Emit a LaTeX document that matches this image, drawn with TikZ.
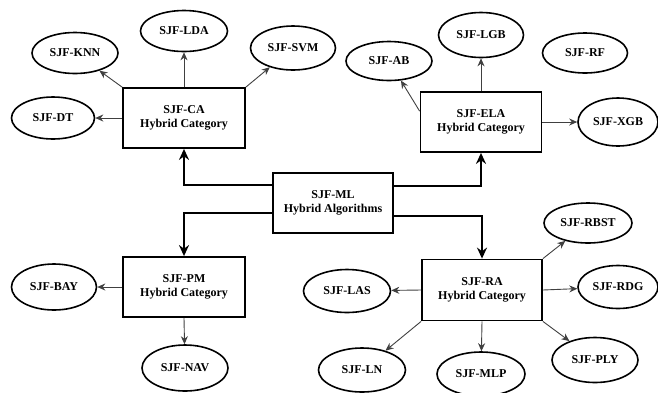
\documentclass[tikz,border=0pt]{standalone}
\usepackage{fontspec}
\setmainfont{Liberation Serif}
\usetikzlibrary{shapes.geometric,arrows.meta}
\tikzset{
  box/.style={draw,line width=1.8pt,minimum width=122pt,minimum height=60pt,inner sep=0pt,align=center,font=\fontsize{12}{14}\selectfont\bfseries},
  oval/.style={draw,ellipse,line width=1.6pt,minimum width=86pt,minimum height=43pt,inner sep=0pt,font=\fontsize{12}{14}\selectfont\bfseries},
  thinarrow/.style={draw=black!75,line width=0.9pt,-{Stealth[length=8pt,width=7pt]}},
  thickarrow/.style={draw,line width=2.2pt,-{Stealth[length=11pt,width=10pt]}}
}
\begin{document}
\begin{tikzpicture}[x=1pt,y=-1pt]
\useasboundingbox (0,0) rectangle (658,392);
% central and category boxes
\node[box,minimum width=120pt] (ml) at (333,203) {SJF-ML\\Hybrid Algorithms};
\node[box] (ca) at (184,118) {SJF-CA\\Hybrid Category};
\node[box,minimum width=121pt] (ela) at (481,122) {SJF-ELA\\Hybrid Category};
\node[box] (pm) at (184,287) {SJF-PM\\Hybrid Category};
\node[box,minimum width=120pt,minimum height=61pt] (ra) at (482,290) {SJF-RA\\Hybrid Category};
% CA leaves
\node[oval,minimum width=83pt,minimum height=42pt] (dt) at (53,118) {SJF-DT};
\node[oval,minimum height=41pt] (knn) at (75,53) {SJF-KNN};
\node[oval,minimum width=87pt,minimum height=41pt] (lda) at (184,31) {SJF-LDA};
\node[oval,minimum width=85pt,minimum height=44pt] (svm) at (293,48) {SJF-SVM};
% ELA leaves
\node[oval,minimum height=39pt] (ab) at (389,61) {SJF-AB};
\node[oval,minimum width=85pt,minimum height=45pt] (lgb) at (481,35) {SJF-LGB};
\node[oval,minimum width=85pt,minimum height=40pt] (rf) at (585,53) {SJF-RF};
\node[oval,minimum width=80pt,minimum height=48pt] (xgb) at (618,122) {SJF-XGB};
% PM leaves
\node[oval,minimum width=85pt,minimum height=46pt] (bay) at (54,287) {SJF-BAY};
\node[oval,minimum height=46pt] (nav) at (185,368) {SJF-NAV};
% RA leaves
\node[oval,minimum width=88pt,minimum height=40pt] (rbst) at (588,223) {SJF-RBST};
\node[oval,minimum width=80pt,minimum height=43pt] (rdg) at (618,287) {SJF-RDG};
\node[oval,minimum height=45pt] (ply) at (595,360) {SJF-PLY};
\node[oval,minimum width=88pt,minimum height=44pt] (mlp) at (481,374) {SJF-MLP};
\node[oval,minimum width=87pt,minimum height=44pt] (ln) at (362,370) {SJF-LN};
\node[oval,minimum width=87pt,minimum height=43pt] (las) at (347,291) {SJF-LAS};
% thick connectors
\draw[thickarrow] ([yshift=18pt]ml.west) -| (ca.south);
\draw[thickarrow] ([yshift=-10pt]ml.west) -| (pm.north);
\draw[thickarrow] ([yshift=17pt]ml.east) -| (ela.south);
\draw[thickarrow] ([yshift=-13pt]ml.east) -| (ra.north);
% CA arrows
\draw[thinarrow] (ca.west) -- (dt);
\draw[thinarrow] (ca.north west) -- (knn);
\draw[thinarrow] (ca.north) -- (lda);
\draw[thinarrow] (ca.north east) -- (svm);
% ELA arrows
\draw[thinarrow] ([yshift=-20pt]ela.north west) -- (ab);
\draw[thinarrow] (ela.north) -- (lgb);
\draw[thinarrow] (ela.east) -- (xgb);
% PM arrows
\draw[thinarrow] (pm.west) -- (bay);
\draw[thinarrow] (pm.south) -- (nav);
% RA arrows
\draw[thinarrow] (ra.north east) -- (rbst);
\draw[thinarrow] (ra.east) -- (rdg);
\draw[thinarrow] (ra.south east) -- (ply);
\draw[thinarrow] (ra.south) -- (mlp);
\draw[thinarrow] (ra.south west) -- (ln);
\draw[thinarrow] (ra.west) -- (las);
\end{tikzpicture}
\end{document}
